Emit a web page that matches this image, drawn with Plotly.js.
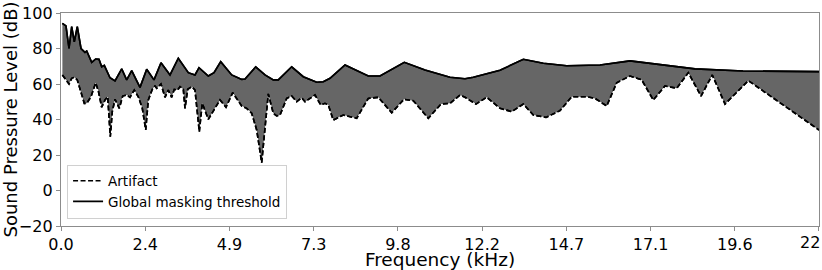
<!DOCTYPE html>
<html>
<head>
<meta charset="utf-8">
<script src="https://cdn.plot.ly/plotly-3.0.1.min.js"></script>
<style>html,body{margin:0;padding:0;background:#fff;}#chart{width:822px;height:270px;}</style>
</head>
<body>
<div id="chart"></div>
<script>
// Global masking threshold (kHz, dB)
const thrFreq = [0.04,0.145,0.233,0.311,0.387,0.474,0.582,0.698,0.748,0.893,1.009,1.105,1.184,1.260,1.425,1.571,1.766,1.911,2.057,2.298,2.493,2.705,2.909,3.171,3.412,3.703,3.898,4.014,4.285,4.451,4.646,4.966,5.257,5.353,5.664,5.934,6.176,6.321,6.711,7.048,7.438,7.630,7.825,8.262,8.939,9.280,9.987,10.589,11.316,11.752,11.994,12.771,13.449,14.030,14.711,15.680,16.553,17.475,18.443,19.840,22.05];
const thrLevel = [94.2,92.7,80,92.3,83.8,92.3,80,77.8,78.6,72.2,74.1,73.9,69.7,70.5,63.5,61.7,68.5,62.3,67.5,58.1,68.3,62.3,72,65.1,74.5,66.4,65.1,69.2,64.5,66.4,72.6,65.1,62.6,62.8,69.7,65.1,62.3,62.3,69.7,64.1,61,61.3,63.2,70.7,64.5,64.5,72.2,67.9,63.8,63.0,63.8,67.8,73.9,71.7,70.3,70.7,73,70.7,68.5,67.3,67.0];
// Artifact spectrum (kHz, dB)
const artFreq = [0.04,0.116,0.233,0.311,0.387,0.474,0.553,0.678,0.748,0.873,1.009,1.085,1.184,1.280,1.358,1.434,1.492,1.571,1.696,1.795,1.911,2.007,2.132,2.249,2.365,2.464,2.540,2.656,2.734,2.784,2.909,3.025,3.121,3.220,3.296,3.395,3.462,3.558,3.607,3.686,3.802,3.898,4.023,4.110,4.285,4.451,4.625,4.800,4.995,5.257,5.402,5.547,5.693,5.838,5.934,6.030,6.176,6.275,6.371,6.566,6.711,6.857,7.002,7.098,7.389,7.555,7.680,7.776,7.921,8.212,8.602,8.939,9.230,9.620,9.978,10.248,10.685,11.054,11.316,11.607,11.752,12.072,12.384,12.771,13.111,13.449,13.739,14.109,14.516,14.856,15.293,15.534,15.875,16.165,16.553,16.893,17.230,17.570,17.911,18.248,18.618,18.946,19.316,19.994,22.05];
const artLevel = [65.1,63.2,60,63.2,63.8,62.3,57,49.1,49.1,52.8,60.7,56.2,46.9,51,52.8,30.3,44.4,51.4,46.3,53.2,53.8,52.5,56.6,52.8,46.3,34.1,51,57,58.9,57.6,60,52.5,56.6,52.5,57,56.6,58.5,57,46.3,57,58.5,56.6,33.1,49.1,40.1,45.7,51,46.9,55.1,47.6,46.3,43.5,34.1,15.7,35,54.4,43.5,42,42.5,51.9,53.2,50,52.3,50,53.8,48.2,49.1,48.2,39.7,42.5,40.7,51.9,52.5,43.8,51.4,50.6,40.7,48.7,49.1,53.8,52.5,48.7,52.5,46.3,44.4,48.7,42.5,41.2,45,52.8,52.8,51.9,47.6,60.7,64.5,62.3,51,58.9,57.6,66.4,53.2,65.1,48.7,61.9,34.1];
// Axis ticks
const xTickVals = [0,2.45,4.9,7.35,9.8,12.25,14.7,17.15,19.6,22.049];
const xTickText = ['0.0','2.4','4.9','7.3','9.8','12.2','14.7','17.1','19.6','22'];

const font = 'DejaVu Sans, sans-serif';
const dashStyle = '5px,2.5px';
const nT = xTickVals.length;
// last label drawn as annotation so it stays inside the picture
const shownTickText = xTickText.map((t, i) => i === nT - 1 ? '' : t);

const traces = [
  {x: artFreq, y: artLevel, mode: 'lines', name: 'Artifact', showlegend: false,
   line: {color: 'black', width: 1.6, dash: dashStyle}, hoverinfo: 'skip'},
  {x: thrFreq, y: thrLevel, mode: 'lines', showlegend: false, fill: 'tonexty',
   fillcolor: 'rgb(102,102,102)', line: {color: 'black', width: 1.6}, hoverinfo: 'skip'},
  {x: artFreq, y: artLevel, mode: 'lines', name: 'Artifact',
   line: {color: 'black', width: 1.6, dash: dashStyle}},
  {x: thrFreq, y: thrLevel, mode: 'lines', name: 'Global masking threshold',
   line: {color: 'black', width: 1.6}}
];
const layout = {
  width: 822, height: 270,
  margin: {l: 61, r: 3, t: 13, b: 44},
  paper_bgcolor: 'white', plot_bgcolor: 'white',
  font: {family: font, color: 'black', size: 16},
  showlegend: true,
  legend: {x: 0.008, y: 0.035, xanchor: 'left', yanchor: 'bottom', traceorder: 'normal',
    bgcolor: 'rgba(255,255,255,0.85)', bordercolor: '#d0d0d0', borderwidth: 1,
    font: {family: font, size: 13.5, color: 'black'}, tracegroupgap: 0},
  xaxis: {range: [0, 22.05], tickvals: xTickVals, ticktext: shownTickText,
    showgrid: false, zeroline: false, showline: true, mirror: true,
    linecolor: '#8c8c8c', linewidth: 1.2, ticks: 'outside', ticklen: 4, tickcolor: '#8c8c8c',
    tickfont: {family: font, size: 16},
    title: {text: 'Frequency (kHz)', font: {family: font, size: 18.5}, standoff: 0}},
  yaxis: {range: [-20, 100], dtick: 20, tick0: -20,
    showgrid: false, zeroline: false, showline: true, mirror: true,
    linecolor: '#8c8c8c', linewidth: 1.2, ticks: 'outside', ticklen: 4, tickcolor: '#8c8c8c',
    tickfont: {family: font, size: 16},
    title: {text: 'Sound Pressure Level (dB)', font: {family: font, size: 18}, standoff: 3}},
  annotations: [{
    text: xTickText[nT - 1], xref: 'x', yref: 'paper', x: xTickVals[nT - 1], y: 0,
    xanchor: 'right', yanchor: 'top', xshift: 3, yshift: -5, showarrow: false,
    font: {family: font, size: 16, color: 'black'}
  }]
};
Plotly.newPlot('chart', traces, layout, {staticPlot: true, displayModeBar: false});
</script>
</body>
</html>
